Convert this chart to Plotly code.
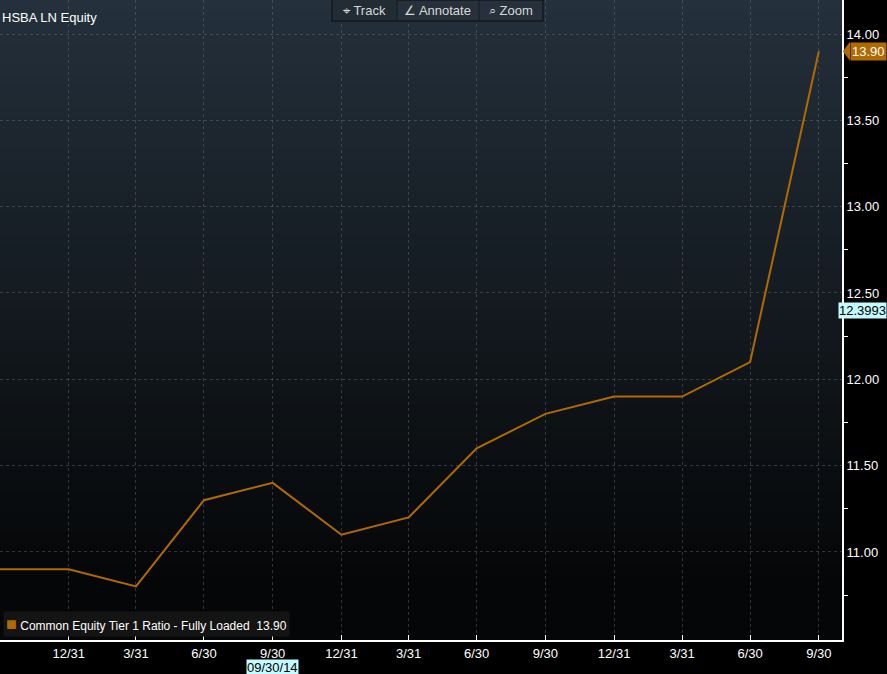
import plotly.graph_objects as go

# quarterly CET1 ratio, fully loaded
dates = ['2013-09-30', '2013-12-31', '2014-03-31', '2014-06-30', '2014-09-30',
         '2014-12-31', '2015-03-31', '2015-06-30', '2015-09-30', '2015-12-31',
         '2016-03-31', '2016-06-30', '2016-09-30']
cet1 = [10.9, 10.9, 10.8, 11.3, 11.4, 11.1, 11.2, 11.6, 11.8, 11.9, 11.9, 12.1, 13.9]
tick_dates = dates[1:]
tick_text = ['12/31', '3/31', '6/30', '9/30', '12/31', '3/31', '6/30', '9/30',
             '12/31', '3/31', '6/30', '9/30']
y_ticks = [11.0, 11.5, 12.0, 12.5, 13.0, 13.5, 14.0]
y_minor = [10.75, 11.25, 11.75, 12.25, 12.75, 13.25, 13.75]
series_name = 'Common Equity Tier 1 Ratio - Fully Loaded'
last_val = cet1[-1]
cursor_val = 12.3993

orange = '#b06a00'
font = 'Liberation Sans, Arial, sans-serif'

fig = go.Figure()
fig.add_trace(go.Scatter(x=dates, y=cet1, mode='lines', name=series_name,
                         line=dict(color=orange, width=2), showlegend=False))

# background gradient, dark slate at top to black at the bottom
shapes = []
n = 60
top = (36, 48, 59)
bot = (5, 6, 7)
for i in range(n):
    t = min(1.0, i / (n - 1) * 1.08)
    c = tuple(int(top[k] + (bot[k] - top[k]) * t) for k in range(3))
    shapes.append(dict(type='rect', xref='paper', yref='paper', layer='below',
                       x0=0, x1=1, y0=max(0, 1 - (i + 1) / n - 0.006), y1=1 - i / n,
                       line=dict(width=0), fillcolor='rgb(%d,%d,%d)' % c))

# pointer in front of the last value label
shapes.append(dict(type='path', xref='paper', yref='y',
                   path='M 1.001 13.9 L 1.0095 13.955 L 1.0095 13.845 Z',
                   fillcolor=orange, line=dict(width=0)))

# toolbar box
pw, ph = 842.0, 640.0
shapes.append(dict(type='rect', xref='paper', yref='paper',
                   x0=332 / pw, x1=543 / pw, y0=1 - 21 / ph, y1=1,
                   fillcolor='#26313b', line=dict(color='#0a0d10', width=1)))
shapes.append(dict(type='rect', xref='paper', yref='paper',
                   x0=333 / pw, x1=397 / pw, y0=1 - 20 / ph, y1=1,
                   fillcolor='#222c35', line=dict(width=0)))
for xs in [397, 479]:
    shapes.append(dict(type='line', xref='paper', yref='paper',
                       x0=xs / pw, x1=xs / pw, y0=1 - 20 / ph, y1=1,
                       line=dict(color='#141a20', width=1)))

annotations = [
    dict(text='HSBA LN Equity', xref='paper', yref='paper', x=0.0, y=1 - 18 / ph,
         xanchor='left', yanchor='middle', showarrow=False,
         font=dict(color='white', size=13, family=font)),
    dict(text='%.2f' % last_val, xref='paper', yref='y', x=1.0095, y=last_val,
         xanchor='left', showarrow=False, bgcolor=orange, borderpad=1,
         font=dict(color='white', size=13, family=font)),
    dict(text='%.4f' % cursor_val, xref='paper', yref='y', x=838 / pw, y=cursor_val,
         xanchor='left', showarrow=False, bgcolor='#c4fbff', borderpad=0,
         font=dict(color='black', size=13, family=font)),
    dict(text='09/30/14', xref='x', yref='paper', x='2014-09-30', y=0,
         yanchor='top', yshift=-19, showarrow=False, bgcolor='#c4fbff', borderpad=0,
         font=dict(color='black', size=13, family=font)),
    dict(text='<span style="color:%s;font-size:18px">\u25a0</span> %s  %.2f'
              % (orange, series_name, last_val),
         xref='paper', yref='paper', x=3 / pw, y=3 / ph, xanchor='left', yanchor='bottom',
         showarrow=False, bgcolor='#141414', borderpad=2,
         font=dict(color='white', size=12, family=font)),
]

# toolbar labels
for label, xc in [('\u2316 Track', 364.5), ('\u2220 Annotate', 438), ('\u2315 Zoom', 511)]:
    annotations.append(dict(text=label, xref='paper', yref='paper', x=xc / pw, y=1 - 10.5 / ph,
                            xanchor='center', yanchor='middle', showarrow=False,
                            font=dict(color='#d8d8d8', size=13, family=font)))

fig.update_layout(
    width=887, height=674,
    margin=dict(l=0, r=45, t=0, b=34),
    paper_bgcolor='black', plot_bgcolor='rgba(0,0,0,0)',
    shapes=shapes, annotations=annotations,
    showlegend=False,
    xaxis=dict(range=['2013-09-30', '2016-10-31'], tickvals=tick_dates, ticktext=tick_text,
               showline=True, linecolor='white', linewidth=2,
               ticks='inside', ticklen=5, tickcolor='white',
               showgrid=True, gridcolor='rgba(120,120,120,0.4)', griddash='dot',
               tickfont=dict(color='white', size=13, family=font), zeroline=False),
    yaxis=dict(range=[10.49, 14.197], side='right', tickvals=y_ticks,
               tickformat='.2f', tickprefix='\u25b8',
               showline=True, linecolor='white', linewidth=2,
               ticks='', showgrid=True, gridcolor='rgba(120,120,120,0.4)', griddash='dot',
               minor=dict(tickvals=y_minor, ticks='outside', ticklen=4,
                          tickcolor='white', showgrid=False),
               tickfont=dict(color='white', size=13, family=font), zeroline=False),
)

fig.write_html('out.html', config={'displayModeBar': False},
               post_script="document.body.style.margin='0';document.body.style.overflow='hidden';")
